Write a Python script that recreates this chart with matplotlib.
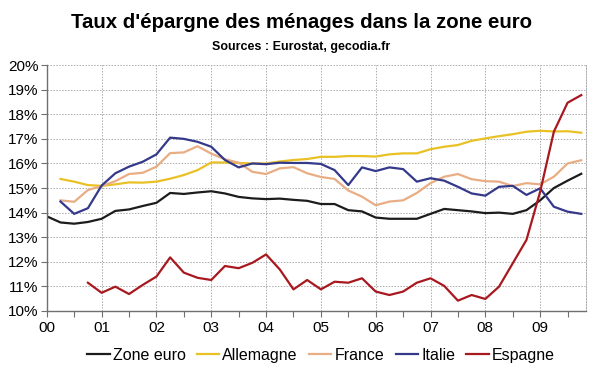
import numpy as np
import matplotlib
matplotlib.use("Agg")
import matplotlib.pyplot as plt
from matplotlib.ticker import MultipleLocator, FuncFormatter

plt.rcParams['font.family'] = ['Liberation Sans', 'DejaVu Sans']

# quarterly savings rates (%), x in years since 2000
zone_euro = [13.85, 13.6, 13.55, 13.62, 13.75, 14.07, 14.13, 14.27, 14.4, 14.8,
             14.76, 14.82, 14.87, 14.78, 14.64, 14.58, 14.55, 14.57, 14.52, 14.48,
             14.35, 14.35, 14.1, 14.05, 13.8, 13.75, 13.75, 13.75, 13.95, 14.15,
             14.1, 14.05, 13.98, 14.0, 13.95, 14.1, 14.5, 15.0, 15.3, 15.58]
allemagne = [15.37, 15.26, 15.12, 15.09, 15.15, 15.23, 15.22, 15.26, 15.38,
             15.53, 15.73, 16.04, 16.04, 16.02, 16.0, 16.0, 16.08, 16.14, 16.18,
             16.27, 16.27, 16.3, 16.3, 16.28, 16.37, 16.41, 16.41, 16.58, 16.68,
             16.75, 16.92, 17.02, 17.11, 17.19, 17.29, 17.33, 17.3, 17.31, 17.25]
france = [14.5, 14.44, 14.92, 15.08, 15.28, 15.57, 15.62, 15.87, 16.42,
          16.45, 16.7, 16.4, 16.17, 16.03, 15.66, 15.57, 15.8, 15.85, 15.6,
          15.45, 15.37, 14.9, 14.65, 14.3, 14.45, 14.5, 14.8, 15.2, 15.46,
          15.57, 15.36, 15.28, 15.26, 15.08, 15.2, 15.15, 15.46, 16.0, 16.13]
italie = [14.45, 13.95, 14.18, 15.1, 15.6, 15.87, 16.07, 16.37, 17.05,
          17.0, 16.88, 16.68, 16.14, 15.84, 16.0, 15.97, 16.03, 16.02, 16.02,
          15.98, 15.73, 15.12, 15.84, 15.69, 15.84, 15.77, 15.26, 15.4, 15.3,
          15.05, 14.78, 14.69, 15.05, 15.09, 14.72, 14.99, 14.24, 14.04, 13.95]
espagne = [11.15, 10.74, 10.99, 10.69, 11.06, 11.4, 12.18, 11.56, 11.35,
           11.26, 11.83, 11.74, 11.96, 12.3, 11.69, 10.88, 11.26, 10.88, 11.19,
           11.15, 11.33, 10.79, 10.65, 10.79, 11.15, 11.33, 11.02, 10.42, 10.65,
           10.49, 10.99, 11.94, 12.89, 14.85, 17.29, 18.47, 18.78]

series = [
    ("Zone euro", zone_euro, 0.0, "#1c1c1c"),
    ("Allemagne", allemagne, 0.25, "#e9c124"),
    ("France", france, 0.25, "#e9ad84"),
    ("Italie", italie, 0.25, "#34398a"),
    ("Espagne", espagne, 0.75, "#a8191f"),
]
year_labels = ["00", "01", "02", "03", "04", "05", "06", "07", "08", "09"]

fig = plt.figure(figsize=(6, 3.72), dpi=100)
ax = fig.add_axes([0.078, 0.164, 0.899, 0.661])

for name, vals, start, col in series:
    x = start + 0.25 * np.arange(len(vals))
    ax.plot(x, vals, color=col, lw=1.6, label=name, solid_joinstyle="round")

ax.set_xlim(0, 9.84)
ax.set_ylim(10, 20)
ax.xaxis.set_minor_locator(MultipleLocator(0.5))
ax.set_xticks(range(10))
ax.set_xticklabels(year_labels)
ax.yaxis.set_major_locator(MultipleLocator(1))
ax.yaxis.set_major_formatter(FuncFormatter(lambda v, p: f"{v:.0f}%"))
ax.tick_params(axis="both", which="both", direction="out", color="#707070",
               labelsize=11, length=4, width=0.8)
ax.tick_params(axis="x", pad=3)
ax.tick_params(axis="y", pad=2)

ax.grid(True, which="major", ls=(0, (1.5, 1.5)), color="#ababab", lw=0.7)
for s in ("left", "bottom"):
    ax.spines[s].set_color("#707070")
    ax.spines[s].set_linewidth(1.0)
ax.spines["top"].set_visible(False)
ax.spines["right"].set_linestyle((0, (1.5, 1.5)))
ax.spines["right"].set_color("#ababab")
ax.spines["right"].set_linewidth(0.7)

fig.text(0.502, 0.94, "Taux d'épargne des ménages dans la zone euro",
         ha="center", va="center", fontsize=14.7, fontweight="bold")
fig.text(0.502, 0.873, "Sources : Eurostat, gecodia.fr",
         ha="center", va="center", fontsize=9, fontweight="bold")

fig.legend(loc="center", bbox_to_anchor=(0.535, 0.045), ncol=5, frameon=False,
           fontsize=11.5, handlelength=1.4, handletextpad=0.2, columnspacing=0.7)

fig.savefig("out.png", dpi=100)
